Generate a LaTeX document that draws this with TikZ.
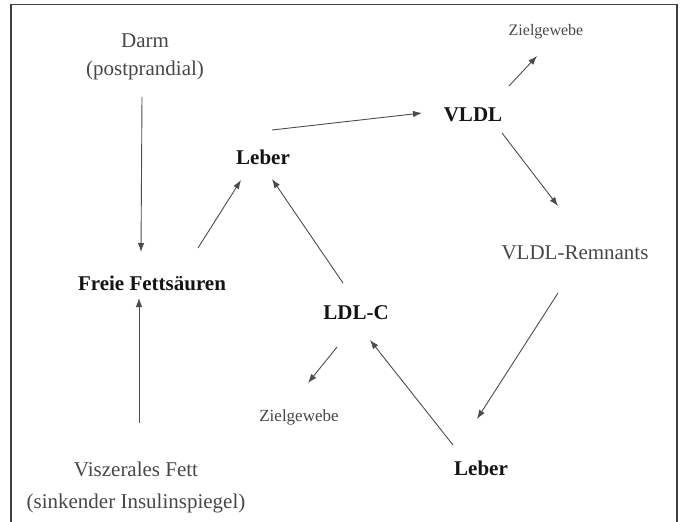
\documentclass[tikz,border=0pt]{standalone}
\usepackage{fontspec}
\setmainfont{Liberation Serif}
\usetikzlibrary{arrows.meta}
\begin{document}
\begin{tikzpicture}[x=1pt,y=-1pt,
  lbl/.style={inner sep=0pt,align=center,text=black!72,font=\fontsize{21}{28}\selectfont},
  blbl/.style={inner sep=0pt,align=center,text=black!92,font=\fontsize{21}{28}\selectfont\bfseries},
  slbl/.style={inner sep=0pt,align=center,text=black!72,font=\fontsize{16}{20}\selectfont},
  arr/.style={draw=black!70,line width=0.9pt,-{Latex[length=9pt,width=6.5pt]}}]
\useasboundingbox (0,0) rectangle (680,522);
\draw[black!75,line width=1.8pt] (11,540) -- (11,4.5) -- (677,4.5) -- (677,540);
\node[lbl] (darm) at (145,57) {Darm\\(postprandial)};
\node[blbl] (ffs) at (152,283) {Freie Fettsäuren};
\node[lbl,font=\fontsize{21}{32}\selectfont] (visz) at (136,487) {Viszerales Fett\\(sinkender Insulinspiegel)};
\node[blbl] (leber1) at (263,157) {Leber};
\node[blbl] (vldl) at (473,115) {VLDL};
\node[slbl] (ziel1) at (546,32) {Zielgewebe};
\node[lbl] (rem) at (575,253) {VLDL-Remnants};
\node[blbl] (leber2) at (481,468) {Leber};
\node[blbl] (ldlc) at (356,313) {LDL-C};
\node[slbl,font=\fontsize{17}{20}\selectfont] (ziel2) at (299,417) {Zielgewebe};
\draw[arr] ([shift={(-3,40)}]darm.center) -- ([shift={(-11,-31)}]ffs.center);
\draw[arr] ([shift={(3,-64)}]visz.center) -- ([shift={(-13,15)}]ffs.center);
\draw[arr] ([shift={(46,-35)}]ffs.center) -- ([shift={(-22,23)}]leber1.center);
\draw[arr] ([shift={(-13,-30)}]ldlc.center) -- ([shift={(9,22)}]leber1.center);
\draw[arr] ([shift={(9,-27)}]leber1.center) -- ([shift={(-51,-2)}]vldl.center);
\draw[arr] ([shift={(36,-29)}]vldl.center) -- ([shift={(-9,24)}]ziel1.center);
\draw[arr] ([shift={(29,18)}]vldl.center) -- ([shift={(-17,-47)}]rem.center);
\draw[arr] ([shift={(-17,40)}]rem.center) -- ([shift={(-4,-49)}]leber2.center);
\draw[arr] ([shift={(-28,-23)}]leber2.center) -- ([shift={(14,27)}]ldlc.center);
\draw[arr] ([shift={(-19,34)}]ldlc.center) -- ([shift={(9,-34)}]ziel2.center);
\end{tikzpicture}
\end{document}
